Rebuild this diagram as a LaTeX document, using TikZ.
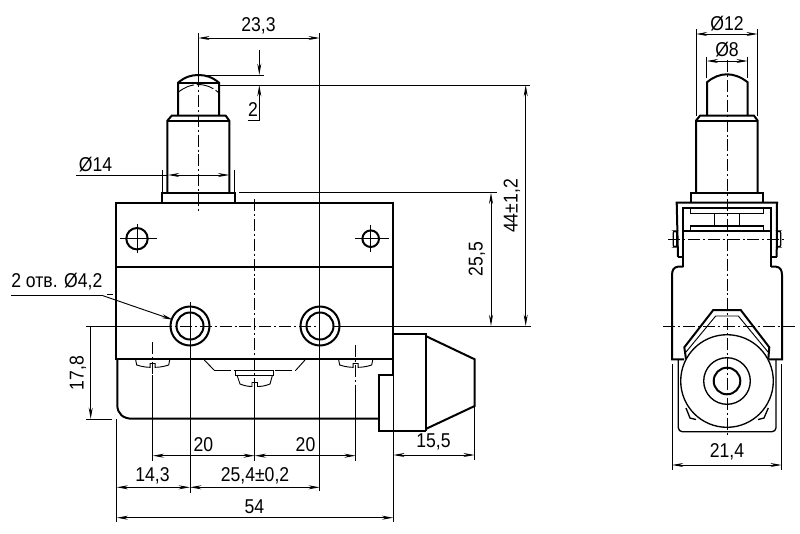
\documentclass[tikz,border=0pt]{standalone}
\usepackage{fontspec}
\setmainfont[FakeStretch=0.88]{Liberation Sans}
\usetikzlibrary{arrows.meta}
\tikzset{
  contour/.style={line width=1.5pt,line join=miter},
  midline/.style={line width=1pt},
  thinline/.style={line width=0.7pt},
  dimline/.style={line width=0.7pt,{Stealth[length=8.5pt,width=3pt]}-{Stealth[length=8.5pt,width=3pt]}},
  endtip/.style={line width=0.7pt,-{Stealth[length=8.5pt,width=3pt]}},
  axisline/.style={line width=0.7pt,dash pattern=on 9pt off 2.2pt on 1.5pt off 2.2pt},
  dimtext/.style={inner sep=0pt,font=\fontsize{15}{16}\selectfont}
}
\begin{document}
\begin{tikzpicture}[x=0.75pt,y=0.75pt,yscale=-1,xscale=1]
\useasboundingbox (0,0) rectangle (800,533);

%Plunger, front view
\draw [contour] (178,115.7) -- (178,82.7) .. controls (185,77) and (191,75) .. (198.3,75) .. controls (206,75) and (212,77) .. (219,82.7) -- (219,115.7) ;
\draw [contour] (178,82.7) -- (219,82.7) ;
\draw [contour] (167.3,192.7) -- (167.3,120.7) -- (171.7,115.7) -- (225.7,115.7) -- (229.3,120.7) -- (229.3,192.7) ;
\draw [contour] (167.3,120.7) -- (229.3,120.7) ;
\draw [contour] (162.3,202.7) -- (162.3,192.7) -- (234.7,192.7) -- (234.7,202.7) ;
\draw [thinline,dash pattern=on 13pt off 2pt] (178.5,92) .. controls (185,87) and (191,84.6) .. (198.3,84.6) .. controls (206,84.6) and (212,87) .. (218.5,92.5) ;

%Housing, front view
\draw [contour] (116,202.7) rectangle (393.3,359.3) ;
\draw [contour] (116,267.3) -- (393.3,267.3) ;
\draw [contour] (117.3,359.3) -- (117.3,405) .. controls (117.3,413.5) and (123,418.7) .. (132,418.7) -- (379.3,418.7) ;
\draw [contour] (393.3,375) -- (379.3,375) -- (379.3,431.3) -- (425.7,431.3) ;
\draw [contour] (393.3,334) -- (425.7,334) -- (425.7,431.3) ;
\draw [contour] (425.7,336) -- (474.7,359.3) -- (474.7,406) -- (425.7,429) ;
\draw [contour] (393.3,359.3) -- (393.3,375) ;

%Holes
\draw [contour] (190,326) circle (19.5) ;
\draw [contour] (190,326) circle (13.5) ;
\draw [contour] (320,326) circle (19.5) ;
\draw [contour] (320,326) circle (13.5) ;
\draw [contour] (137,238.7) circle (10.7) ;
\draw [contour] (370.7,238.7) circle (8.3) ;

%Screws
\foreach \sx in {152.7,355.7} {
  \draw [thinline] (\sx-17,360) -- (\sx-16,365) .. controls (\sx-10,367) and (\sx-5,367.3) .. (\sx-2.5,367.3) -- (\sx-2.5,363.5) -- (\sx+2.5,363.5) -- (\sx+2.5,367.3) .. controls (\sx+5,367.3) and (\sx+10,367) .. (\sx+16,365) -- (\sx+17,360) ;
}
\draw [thinline] (204.3,360) -- (214,370) ;
\draw [thinline,dash pattern=on 13pt off 2.2pt] (214,370) -- (296,370) ;
\draw [thinline] (296,370) -- (305,360) ;
\draw [thinline] (235.7,370.7) rectangle (273.3,375) ;
\draw [thinline] (237,375) -- (240,384) .. controls (245,386) and (249,386.5) .. (252,386.5) -- (252,382.5) -- (257.5,382.5) -- (257.5,386.5) .. controls (261,386.5) and (265,386) .. (270,384) -- (272.5,375) ;

%Axis lines, front view
\draw [axisline] (198.3,75) -- (198.3,212) ;
\draw [axisline] (254.7,199) -- (254.7,385) ;
\draw [axisline] (152.7,342) -- (152.7,375) ;
\draw [axisline] (355.7,345) -- (355.7,390) ;
\draw [axisline] (160,326) -- (320,326) ;
\draw [thinline] (120,238.7) -- (157,238.7) (137,224) -- (137,253) ;
\draw [thinline] (354.5,238.7) -- (389,238.7) (370.7,225) -- (370.7,252) ;

%Extension lines, front view
\draw [thinline] (198.3,33) -- (198.3,75) ;
\draw [thinline] (319.8,33) -- (319.8,491) ;
\draw [thinline] (190,302) -- (190,492.7) ;
\draw [thinline] (152.7,375) -- (152.7,461) ;
\draw [thinline] (254.7,385) -- (254.7,461) ;
\draw [thinline] (355.7,390) -- (355.7,461) ;
\draw [thinline] (116.7,419) -- (116.7,522) ;
\draw [thinline] (393.3,375) -- (393.3,522) ;
\draw [thinline] (474.7,406) -- (474.7,460) ;
\draw [thinline] (86,419) -- (111.7,419) ;
\draw [thinline] (86,326) -- (160,326) ;
\draw [thinline] (333,326) -- (531,326) ;
\draw [thinline] (198.3,75) -- (264.3,75) ;
\draw [thinline] (219,85) -- (530,85) ;
\draw [thinline] (239,192.7) -- (497,192.7) ;
\draw [thinline] (162.3,170) -- (162.3,192.7) (234.7,170) -- (234.7,192.7) ;

%Dimension lines, front view
\draw [dimline] (198.3,38) -- (319.8,38) ;
\draw [endtip] (259.3,50) -- (259.3,75) ;
\draw [endtip] (259.3,120.7) -- (259.3,85) ;
\draw [thinline] (247.7,120.7) -- (259.3,120.7) ;
\draw [thinline] (76,175) -- (168,175) ;
\draw [dimline] (168,175) -- (229.3,175) ;
\draw [dimline] (491,192.7) -- (491,326) ;
\draw [dimline] (525.7,85) -- (525.7,326) ;
\draw [endtip] (90.7,326) -- (90.7,419) ;
\draw [dimline] (152.7,455.7) -- (254.7,455.7) ;
\draw [dimline] (254.7,455.7) -- (355.7,455.7) ;
\draw [dimline] (116.7,487.3) -- (190,487.3) ;
\draw [dimline] (190,487.3) -- (319.8,487.3) ;
\draw [dimline] (116.7,517.7) -- (393.3,517.7) ;
\draw [dimline] (393.3,455) -- (474.7,455) ;
\draw [thinline] (11,295.7) -- (103,295.7) ;
\draw [thinline] (107.3,294.3) -- (113.3,294.3) ;
\draw [endtip] (103,295.7) -- (173,319.8) ;

%Plunger, side view
\draw [contour] (707,115.7) -- (707,82.3) .. controls (713,77) and (720,74.3) .. (727,74.3) .. controls (734,74.3) and (741,77) .. (747.7,82.3) -- (747.7,115.7) ;
\draw [contour] (696,192.7) -- (696,120.7) -- (700,115.7) -- (754,115.7) -- (757.7,120.7) -- (757.7,192.7) ;
\draw [contour] (696,120.7) -- (757.7,120.7) ;
\draw [contour] (690.7,202.7) -- (690.7,192.7) -- (763.3,192.7) -- (763.3,202.7) ;

%Bracket, side view
\draw [contour] (678,257) -- (683.3,257) ;
\draw [contour] (770.7,257) -- (776.7,257) ;
\draw [contour] (678,257) -- (676.7,202.7) -- (777,202.7) -- (776.7,257) ;
\draw [contour] (683.3,266.7) -- (683.3,208.3) -- (771,208.3) -- (771,266.7) ;
\draw [midline] (690.7,208.3) rectangle (763.3,213.3) ;
\draw [midline] (690.7,226) rectangle (763.3,231) ;
\draw [midline] (714.3,213.3) -- (714.3,226) (739.3,213.3) -- (739.3,226) ;
\draw [midline] (684.3,231) -- (770,231) ;
\draw [midline,rounded corners=1.5] (673.3,231) rectangle (676.7,247) ;
\draw [midline,rounded corners=1.5] (777,231) rectangle (780.7,247) ;

%Housing, side view
\draw [contour] (683.3,266.7) -- (678,266.7) .. controls (674,267) and (672,270) .. (672,275) -- (672,359.3) -- (684,359.3) ;
\draw [contour] (771,266.7) -- (776,266.7) .. controls (780,267) and (782,270) .. (782,275) -- (782,359.3) -- (769,359.3) ;
\draw [contour] (686,359) -- (684.3,347.3) -- (713.3,310) -- (740.7,310) -- (769.3,347.3) -- (768.3,359) ;
\draw [thinline] (686,352) -- (715.7,316) -- (738.3,316) -- (768,352) ;
\draw [midline,rounded corners=3] (678.3,359.3) -- (678.3,431.7) -- (776,431.7) -- (776,359.3) ;
\draw [midline] (686,408) -- (690,418) -- (696,419.5) (768.3,408) -- (764,418) -- (758,419.5) ;
\draw [fill=white,midline] (727,381) circle (46.3) ;
\draw [midline] (727,381) circle (23.3) ;
\draw [contour] (727,381) circle (13.3) ;

%Axis lines, side view
\draw [axisline] (727,60) -- (727,437) ;
\draw [axisline] (663.3,326) -- (796,326) ;
\draw [axisline] (668,239) -- (785,239) ;

%Dimensions, side view
\draw [thinline] (696,29) -- (696,116) (757.7,29) -- (757.7,116) ;
\draw [thinline] (706.7,56.7) -- (706.7,78) (747.7,56.7) -- (747.7,78) ;
\draw [dimline] (696,34) -- (757.7,34) ;
\draw [dimline] (706.7,61) -- (747.7,61) ;
\draw [thinline] (672,364.3) -- (672,470) (781.7,364.3) -- (781.7,470) ;
\draw [dimline] (672,465) -- (781.7,465) ;

% Text Node
\node (lblPlungerX) [dimtext] at (258.5,26) {23,3};
\node (lblTravel) [dimtext] at (253,110) {2};
\node (lblStem) [dimtext] at (95.5,165) {Ø14};
\node (lblHoles) [dimtext,anchor=west] at (11,282) {2 отв. Ø4,2};
\node (lblTotal) [dimtext,rotate=90] at (512,206) {44±1,2};
\node (lblAxis) [dimtext,rotate=90] at (477,259) {25,5};
\node (lblLower) [dimtext,rotate=90] at (78,373) {17,8};
\node (lblScrewL) [dimtext] at (203.5,445) {20};
\node (lblScrewR) [dimtext] at (305.5,445) {20};
\node (lblPush) [dimtext] at (433.5,441.5) {15,5};
\node (lblEdge) [dimtext] at (152.5,475.5) {14,3};
\node (lblHoleDist) [dimtext] at (255,475.5) {25,4±0,2};
\node (lblWidth) [dimtext] at (254.5,507) {54};
\node (lblDiaOuter) [dimtext] at (727,23.5) {Ø12};
\node (lblDiaInner) [dimtext] at (727,50) {Ø8};
\node (lblDepth) [dimtext] at (727,452) {21,4};
\end{tikzpicture}
\end{document}
